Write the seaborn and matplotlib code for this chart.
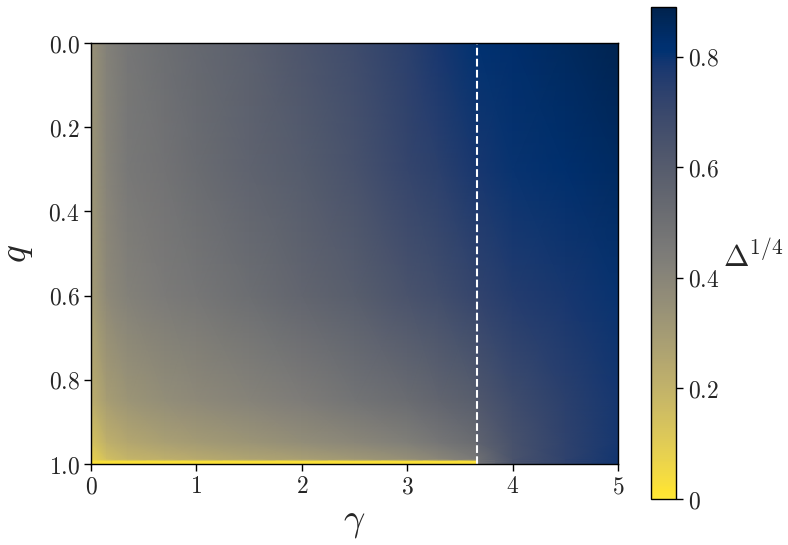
import numpy as np
import matplotlib
matplotlib.use("Agg")
import matplotlib.pyplot as plt
from matplotlib.ticker import FuncFormatter, FixedLocator
import seaborn as sns

# ---- data ----
gamma = [0.0, 0.15, 0.35, 0.7, 1.0, 1.5, 2.0, 2.5, 3.0, 3.3, 3.655, 3.665, 4.0, 4.5, 5.0]
q_vals = [0.0, 0.3, 0.6, 0.85, 0.95, 0.99, 0.994, 1.0]

row_q000 = [0.34, 0.42, 0.47, 0.51, 0.54, 0.58, 0.63, 0.68, 0.74, 0.78, 0.81, 0.81, 0.83, 0.855, 0.88]
row_q030 = [0.33, 0.41, 0.46, 0.49, 0.52, 0.56, 0.60, 0.65, 0.71, 0.74, 0.78, 0.78, 0.80, 0.825, 0.845]
row_q060 = [0.30, 0.38, 0.42, 0.45, 0.47, 0.51, 0.55, 0.59, 0.64, 0.67, 0.71, 0.72, 0.755, 0.78, 0.80]
row_q085 = [0.22, 0.29, 0.33, 0.36, 0.38, 0.41, 0.44, 0.48, 0.52, 0.55, 0.59, 0.62, 0.68, 0.74, 0.785]
row_q095 = [0.13, 0.21, 0.25, 0.28, 0.30, 0.33, 0.36, 0.39, 0.43, 0.47, 0.52, 0.56, 0.65, 0.73, 0.785]
row_q099 = [0.07, 0.15, 0.19, 0.21, 0.23, 0.26, 0.28, 0.31, 0.35, 0.39, 0.45, 0.50, 0.64, 0.73, 0.79]
row_q0994 = [0.03, 0.03, 0.03, 0.03, 0.03, 0.03, 0.03, 0.03, 0.03, 0.03, 0.03, 0.49, 0.64, 0.73, 0.79]
row_q100 = [0.02, 0.02, 0.02, 0.02, 0.02, 0.02, 0.02, 0.02, 0.02, 0.02, 0.02, 0.49, 0.64, 0.73, 0.79]

gamma_c = 3.66
x_ticks = [0, 1, 2, 3, 4, 5]
y_ticks = [0.0, 0.2, 0.4, 0.6, 0.8, 1.0]
cbar_ticks = [0.0, 0.2, 0.4, 0.6, 0.8]
vmin, vmax = 0.0, 0.89

# ---- style ----
sns.set_theme(style="ticks")
plt.rcParams["mathtext.fontset"] = "cm"
plt.rcParams["font.family"] = ["DejaVu Serif"]
plt.rcParams["xtick.direction"] = "out"
plt.rcParams["ytick.direction"] = "out"

cmap = sns.color_palette("cividis_r", as_cmap=True)

Z = np.array([row_q000, row_q030, row_q060, row_q085, row_q095,
              row_q099, row_q0994, row_q100])
G, Q = np.meshgrid(np.array(gamma), np.array(q_vals))

fig = plt.figure(figsize=(7.88, 5.45), dpi=100)
ax = fig.add_axes([0.1155, 0.1486, 0.669, 0.7725])
cax = fig.add_axes([0.826, 0.0844, 0.032, 0.903])

mesh = ax.pcolormesh(G, Q, Z, shading="gouraud", cmap=cmap,
                     vmin=vmin, vmax=vmax, rasterized=True)
ax.axvline(gamma_c, color="white", ls="--", lw=1.5)

ax.set_xlim(0, 5)
ax.set_ylim(1, 0)
ax.xaxis.set_major_locator(FixedLocator(x_ticks))
ax.yaxis.set_major_locator(FixedLocator(y_ticks))
ax.xaxis.set_major_formatter(FuncFormatter(lambda v, p: r"$%d$" % round(v)))
ax.yaxis.set_major_formatter(FuncFormatter(lambda v, p: r"$%.1f$" % v))
ax.tick_params(axis="both", labelsize=17, length=5, width=1, color="black", pad=3)
for s in ax.spines.values():
    s.set_color("black")
    s.set_linewidth(1.0)

ax.set_xlabel(r"$\gamma$", fontsize=27, labelpad=4)
ax.set_ylabel(r"$q$", fontsize=27, labelpad=10)

cb = fig.colorbar(mesh, cax=cax)
cb.set_ticks(cbar_ticks)
cb.set_ticklabels([r"$0$" if t == 0 else r"$%.1f$" % t for t in cbar_ticks])
cb.ax.tick_params(labelsize=17, length=5, width=1, color="black")
cb.outline.set_edgecolor("black")
cb.outline.set_linewidth(1.0)
fig.text(0.918, 0.527, r"$\Delta^{1/4}$", fontsize=22, ha="left", va="center")

fig.savefig("out.png", dpi=100)
